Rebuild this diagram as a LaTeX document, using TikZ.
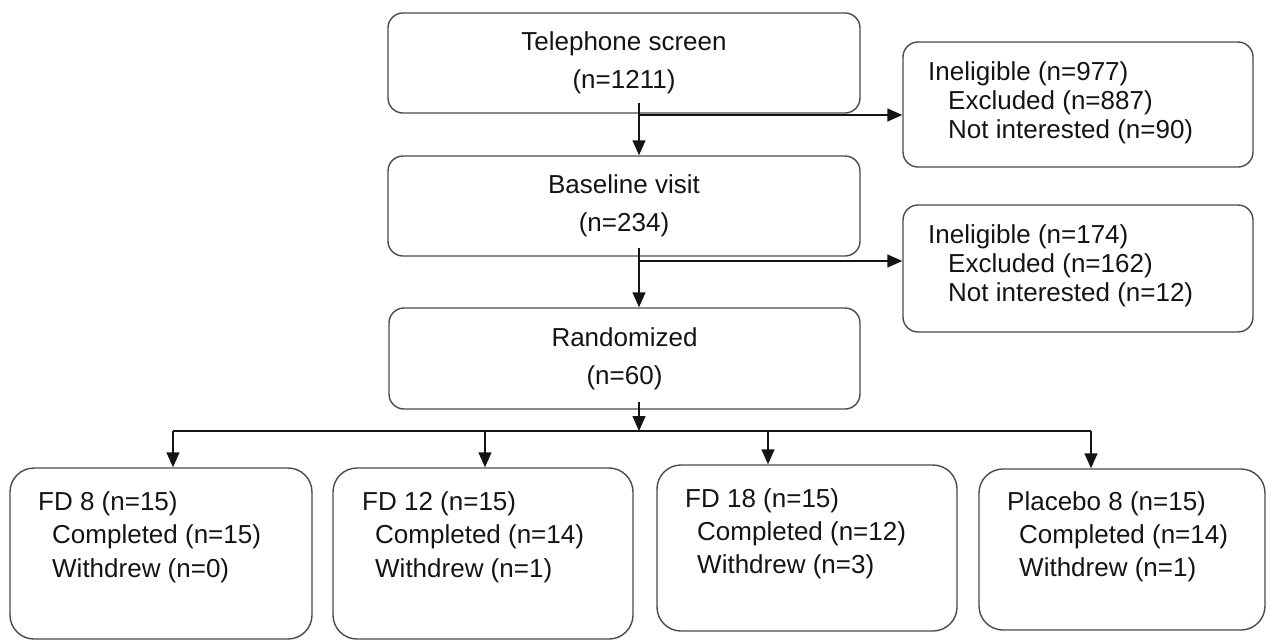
\documentclass[tikz,border=0pt]{standalone}
\usepackage{fontspec}
\setmainfont{Liberation Sans}
\usetikzlibrary{arrows.meta}
\definecolor{boxgray}{HTML}{4A4A4A}
\definecolor{ink}{HTML}{141414}
\begin{document}
\begin{tikzpicture}[x=1pt,y=-1pt,
  box/.style={draw=boxgray,line width=1.4pt,rounded corners=15pt,inner sep=0pt,text=ink},
  bigbox/.style={box,rounded corners=24pt},
  ctext/.style={align=center,font=\fontsize{26}{38}\selectfont},
  lbl/.style={anchor=base west,inner sep=0pt,text=ink,font=\fontsize{26}{30}\selectfont},
  ln/.style={draw=ink,line width=1.4pt},
  arr/.style={ln,-{Triangle[length=15pt,width=13pt]}}]
\useasboundingbox (0,0) rectangle (1267,641);

% main column
\node[box,ctext,minimum width=472pt,minimum height=100pt] (tel) at (624,63) {Telephone screen\\(n=1211)};
\node[box,ctext,minimum width=472pt,minimum height=100pt] (base) at (624,206) {Baseline visit\\(n=234)};
\node[box,ctext,minimum width=471pt,minimum height=101pt] (rand) at (624.5,358.5) {Randomized\\(n=60)};

% ineligible boxes
\node[box,minimum width=350pt,minimum height=125pt] (in1) at (1078,104.5) {};
\node[lbl] (in1t) at (928,80) {\vtop{\baselineskip=29pt
  \hbox{Ineligible (n=977)}
  \hbox{\hspace*{20pt}Excluded (n=887)}
  \hbox{\hspace*{20pt}Not interested (n=90)}}};
\node[box,minimum width=350pt,minimum height=127pt] (in2) at (1078,268.5) {};
\node[lbl] (in2t) at (928,243) {\vtop{\baselineskip=29pt
  \hbox{Ineligible (n=174)}
  \hbox{\hspace*{20pt}Excluded (n=162)}
  \hbox{\hspace*{20pt}Not interested (n=12)}}};

% arm boxes
\node[bigbox,minimum width=302pt,minimum height=171pt] (fd8) at (161,553.5) {};
\node[lbl] (fd8t) at (38,510) {\vtop{\baselineskip=33.5pt
  \hbox{FD 8 (n=15)}
  \hbox{\hspace*{14pt}Completed (n=15)}
  \hbox{\hspace*{14pt}Withdrew (n=0)}}};
\node[bigbox,minimum width=300pt,minimum height=171pt] (fd12) at (483,553.5) {};
\node[lbl] (fd12t) at (362,510) {\vtop{\baselineskip=33.5pt
  \hbox{FD 12 (n=15)}
  \hbox{\hspace*{13pt}Completed (n=14)}
  \hbox{\hspace*{13pt}Withdrew (n=1)}}};
\node[bigbox,minimum width=300pt,minimum height=166pt] (fd18) at (807,548) {};
\node[lbl] (fd18t) at (685,507) {\vtop{\baselineskip=33pt
  \hbox{FD 18 (n=15)}
  \hbox{\hspace*{12pt}Completed (n=12)}
  \hbox{\hspace*{12pt}Withdrew (n=3)}}};
\node[bigbox,minimum width=286pt,minimum height=161pt] (plac) at (1122,549.5) {};
\node[lbl] (plact) at (1007,510) {\vtop{\baselineskip=33pt
  \hbox{Placebo 8 (n=15)}
  \hbox{\hspace*{12pt}Completed (n=14)}
  \hbox{\hspace*{12pt}Withdrew (n=1)}}};

% connectors
\coordinate (t1) at (639,103);
\coordinate (h1) at (639,115);
\draw[arr] (t1) -- (t1 |- base.north);
\draw[arr] (h1) -- (h1 -| in1.west);

\coordinate (t2) at (639,248);
\coordinate (h2) at (639,261);
\draw[arr] (t2) -- (t2 |- rand.north);
\draw[arr] (h2) -- (h2 -| in2.west);

\coordinate (r1) at (639,402);
\coordinate (bl) at (173,431);
\coordinate (b2) at (485,431);
\coordinate (b3) at (768,431);
\coordinate (br) at (1091,431);
\draw[ln] (bl) -- (br);
\draw[arr] (r1) -- (r1 |- bl);
\draw[arr] (bl) -- (bl |- fd8.north);
\draw[arr] (b2) -- (b2 |- fd12.north);
\draw[arr] (b3) -- (b3 |- fd18.north);
\draw[arr] (br) -- (br |- plac.north);
\end{tikzpicture}
\end{document}
